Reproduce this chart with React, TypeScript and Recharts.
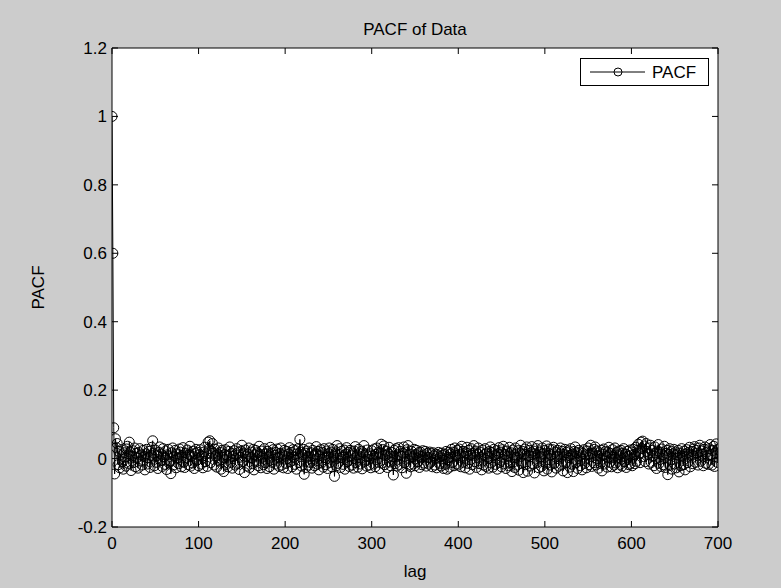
import { CartesianGrid, Legend, Line, LineChart, XAxis, YAxis } from "recharts";

// PACF values, one per lag (lag = position in the list)
const pacfLags0to99 = [
  1, 0.6, 0.09, -0.045, 0.058, 0.032, 0.044, -0.018, 0.021, -0.027,
  0.012, 0.026, -0.009, -0.031, 0.017, 0.004, -0.022, 0.028, 0.036, -0.014,
  0.048, 0.019, -0.035, 0.007, 0.023, -0.012, 0.031, -0.024, 0.015, 0.002,
  -0.028, 0.018, 0.029, -0.007, 0.011, -0.019, 0.024, 0.006, -0.033, 0.014,
  0.027, -0.016, 0.003, 0.021, -0.026, 0.009, 0.033, 0.052, 0.016, -0.021,
  0.025, -0.011, 0.008, -0.029, 0.019, 0.034, -0.006, 0.013, -0.023, 0.029,
  0.005, -0.017, 0.022, -0.032, 0.011, 0.027, -0.013, -0.008, -0.044, 0.017,
  0.031, -0.019, 0.006, 0.024, -0.027, 0.014, 0.002, -0.015, 0.028, 0.019,
  -0.024, 0.009, 0.032, -0.011, -0.026, 0.016, 0.004, 0.025, -0.018, 0.012,
  0.036, -0.022, 0.008, -0.013, 0.021, -0.029, 0.015, 0.027, -0.005, 0.018,
];

const pacfLags100to199 = [
  -0.021, 0.011, 0.026, -0.016, 0.007, -0.027, 0.019, 0.033, -0.009, 0.014,
  -0.023, 0.048, 0.029, 0.052, -0.012, 0.021, 0.044, 0.016, -0.019, 0.027,
  0.008, -0.025, 0.013, 0.031, -0.007, 0.018, -0.031, 0.024, 0.003, -0.038,
  0.012, 0.026, -0.017, 0.009, -0.024, 0.021, 0.034, -0.011, 0.015, -0.028,
  0.006, 0.023, -0.019, 0.011, 0.029, -0.014, 0.018, -0.032, 0.004, 0.022,
  0.039, -0.009, 0.016, -0.041, 0.025, 0.007, -0.022, 0.013, 0.031, -0.026,
  0.019, 0.003, -0.015, 0.027, -0.033, 0.011, 0.024, -0.008, 0.017, -0.021,
  0.036, 0.012, -0.027, 0.022, 0.005, -0.018, 0.029, -0.012, 0.014, -0.029,
  0.021, 0.008, -0.024, 0.033, 0.016, -0.011, 0.026, -0.031, 0.009, 0.018,
  -0.016, 0.028, 0.002, -0.023, 0.015, 0.031, -0.019, 0.011, -0.027, 0.024,
];

const pacfLags200to299 = [
  0.007, -0.014, 0.021, -0.029, 0.013, 0.032, -0.009, 0.018, -0.024, 0.026,
  0.004, -0.017, 0.023, -0.031, 0.014, 0.029, -0.012, 0.056, 0.019, -0.022,
  0.011, 0.027, -0.046, 0.016, -0.026, 0.022, 0.006, -0.019, 0.031, -0.011,
  0.017, -0.028, 0.024, 0.009, -0.021, 0.013, 0.035, -0.016, 0.021, -0.033,
  0.008, 0.026, -0.013, 0.018, -0.025, 0.029, 0.003, -0.018, 0.022, -0.029,
  0.014, 0.031, -0.011, 0.019, -0.024, 0.027, 0.006, -0.052, 0.016, -0.021,
  0.038, -0.014, 0.012, 0.029, -0.026, 0.021, 0.004, -0.017, 0.025, -0.031,
  0.013, 0.032, -0.009, 0.018, -0.023, 0.024, 0.008, -0.019, 0.016, -0.028,
  0.022, 0.035, -0.012, 0.011, -0.025, 0.027, 0.002, -0.016, 0.021, -0.03,
  0.017, 0.038, -0.008, 0.013, -0.022, 0.025, 0.007, -0.019, 0.014, -0.027,
];

const pacfLags300to399 = [
  0.023, 0.009, -0.016, 0.028, -0.024, 0.012, 0.031, -0.011, 0.019, -0.029,
  0.015, 0.042, -0.013, 0.026, 0.037, -0.018, 0.009, 0.022, -0.026, 0.014,
  0.033, -0.01, -0.021, 0.018, 0.006, -0.048, 0.024, -0.015, 0.029, -0.022,
  0.011, 0.032, -0.017, 0.021, 0.008, -0.027, 0.016, 0.034, -0.012, 0.019,
  -0.043, 0.026, 0.038, -0.019, 0.013, -0.024, 0.021, 0.005, -0.016, 0.027,
  -0.021, 0.012, 0.024, -0.009, 0.017, -0.026, 0.019, 0.006, -0.018, 0.023,
  -0.013, 0.011, 0.021, -0.022, 0.015, 0.003, -0.016, 0.019, -0.011, 0.014,
  -0.024, 0.017, 0.008, -0.019, 0.013, -0.027, 0.011, 0.018, -0.014, 0.006,
  -0.022, 0.016, 0.009, -0.029, 0.012, -0.017, 0.021, -0.031, 0.004, 0.018,
  -0.025, 0.014, 0.027, -0.012, 0.019, -0.021, 0.031, 0.009, -0.016, 0.024,
];

const pacfLags400to499 = [
  -0.019, 0.028, 0.013, -0.024, 0.036, -0.011, 0.021, 0.007, -0.027, 0.017,
  0.033, -0.014, 0.024, -0.031, 0.011, 0.029, -0.018, 0.015, 0.038, -0.009,
  0.022, -0.026, 0.013, 0.031, -0.015, 0.019, 0.004, -0.033, 0.025, -0.019,
  0.012, 0.029, -0.023, 0.016, 0.006, -0.028, 0.021, 0.034, -0.013, 0.018,
  -0.025, 0.027, 0.009, -0.017, 0.023, -0.031, 0.014, 0.032, -0.011, 0.019,
  -0.024, 0.026, 0.036, -0.016, 0.012, -0.029, 0.022, 0.007, -0.021, 0.033,
  -0.012, 0.017, -0.038, 0.025, 0.011, -0.026, 0.031, 0.004, -0.019, 0.023,
  -0.034, 0.016, 0.039, -0.014, 0.021, -0.041, 0.013, 0.028, -0.018, 0.034,
  -0.037, 0.009, 0.024, -0.022, 0.017, 0.035, -0.016, 0.022, -0.042, 0.014,
  0.029, -0.011, 0.038, -0.027, 0.019, 0.006, -0.023, 0.031, 0.015, -0.036,
];

const pacfLags500to599 = [
  0.024, -0.013, 0.037, -0.031, 0.016, 0.028, -0.019, 0.011, -0.039, 0.026,
  0.033, -0.014, 0.019, -0.028, 0.007, 0.024, -0.022, 0.014, 0.031, -0.017,
  0.021, -0.036, 0.012, 0.027, -0.011, 0.018, -0.041, 0.023, 0.009, -0.025,
  0.029, -0.016, 0.013, -0.038, 0.021, 0.034, -0.012, 0.017, -0.029, 0.024,
  0.008, -0.021, 0.019, -0.033, 0.015, 0.026, -0.014, 0.011, -0.027, 0.022,
  0.031, -0.018, 0.013, 0.039, -0.023, 0.016, -0.012, 0.027, 0.034, -0.019,
  0.022, 0.009, -0.028, 0.017, -0.014, 0.024, -0.036, 0.013, 0.028, -0.016,
  0.021, 0.006, -0.025, 0.019, 0.033, -0.011, 0.015, -0.024, 0.026, 0.004,
  -0.019, 0.031, -0.013, 0.018, -0.027, 0.022, 0.011, -0.017, 0.024, -0.022,
  0.016, 0.029, -0.009, 0.013, -0.026, 0.021, 0.007, -0.018, 0.025, -0.014,
];

const pacfLags600to700 = [
  0.019, -0.021, 0.027, 0.012, -0.015, 0.033, -0.008, 0.024, 0.042, 0.016,
  -0.012, 0.048, 0.029, 0.051, 0.006, 0.037, -0.009, 0.044, 0.021, 0.013,
  -0.016, 0.031, 0.039, -0.011, 0.024, 0.008, -0.021, 0.034, 0.017, -0.029,
  0.022, 0.041, -0.014, 0.019, -0.023, 0.028, 0.011, -0.018, 0.036, -0.026,
  0.015, 0.024, -0.047, 0.012, 0.029, -0.019, 0.021, -0.031, 0.014, 0.027,
  -0.016, 0.019, -0.027, 0.011, 0.024, -0.039, 0.016, -0.021, 0.029, 0.007,
  -0.018, 0.022, -0.033, 0.013, 0.026, -0.012, 0.018, 0.033, -0.024, 0.009,
  0.021, -0.015, 0.028, 0.035, -0.011, 0.024, 0.016, -0.019, 0.031, 0.039,
  -0.008, 0.022, 0.013, -0.021, 0.027, 0.034, -0.014, 0.019, 0.009, -0.017,
  0.029, 0.041, 0.012, -0.019, 0.024, 0.036, -0.023, 0.018, 0.043, -0.011,
  0.026,
];

const lagTicks = [0, 100, 200, 300, 400, 500, 600, 700];
const pacfTicks = [-0.2, 0, 0.2, 0.4, 0.6, 0.8, 1, 1.2];

const seriesName = "PACF";
const chartTitle = "PACF of Data";
const xLabel = "lag";
const yLabel = "PACF";

const pacfValues = [
  ...pacfLags0to99,
  ...pacfLags100to199,
  ...pacfLags200to299,
  ...pacfLags300to399,
  ...pacfLags400to499,
  ...pacfLags500to599,
  ...pacfLags600to700,
];

const chartData = pacfValues.map((value, lag) => ({ lag, pacf: value }));

const FONT = "'Liberation Sans', Arial, Helvetica, sans-serif";
const TICK_LEN = 6;

function BottomTick({ x, y, payload }: any) {
  return (
    <g>
      <line x1={x} y1={y} x2={x} y2={y - TICK_LEN} stroke="#000" />
      <text x={x} y={y + 22} textAnchor="middle" fontSize={17} fontFamily={FONT} fill="#000">
        {String(payload.value)}
      </text>
    </g>
  );
}

function LeftTick({ x, y, payload }: any) {
  return (
    <g>
      <line x1={x} y1={y} x2={x + TICK_LEN} y2={y} stroke="#000" />
      <text x={x - 5} y={y + 6} textAnchor="end" fontSize={17} fontFamily={FONT} fill="#000">
        {String(payload.value)}
      </text>
    </g>
  );
}

function TopTick({ x, y }: any) {
  return <line x1={x} y1={y} x2={x} y2={y + TICK_LEN} stroke="#000" />;
}

function RightTick({ x, y }: any) {
  return <line x1={x} y1={y} x2={x - TICK_LEN} y2={y} stroke="#000" />;
}

function TitleLabel({ viewBox }: any) {
  return (
    <text x={viewBox.x + viewBox.width / 2} y={viewBox.y + 35} textAnchor="middle" fontSize={17} fontFamily={FONT} fill="#000">
      {chartTitle}
    </text>
  );
}

function XAxisLabel({ viewBox }: any) {
  return (
    <text x={viewBox.x + viewBox.width / 2} y={viewBox.y + 50} textAnchor="middle" fontSize={17} fontFamily={FONT} fill="#000">
      {xLabel}
    </text>
  );
}

function YAxisLabel({ viewBox }: any) {
  const cx = viewBox.x + 44;
  const cy = viewBox.y + viewBox.height / 2;
  return (
    <text x={cx} y={cy} transform={`rotate(-90 ${cx} ${cy})`} textAnchor="middle" fontSize={17} fontFamily={FONT} fill="#000">
      {yLabel}
    </text>
  );
}

function LegendBox({ payload }: any) {
  const name = payload && payload[0] ? payload[0].value : seriesName;
  return (
    <svg width={129} height={28} style={{ display: "block" }}>
      <rect x={0.5} y={0.5} width={128} height={27} fill="#fff" stroke="#000" />
      <line x1={10} y1={14} x2={65} y2={14} stroke="#000" />
      <circle cx={38} cy={14} r={4} fill="none" stroke="#000" />
      <text x={72} y={20} fontSize={17} fontFamily={FONT} fill="#000">
        {name}
      </text>
    </svg>
  );
}

export default function App() {
  return (
    <div
      style={{
        position: "absolute",
        left: 0,
        top: 0,
        width: 781,
        height: 588,
        background: "#cccccc",
      }}
    >
      <LineChart
        width={781}
        height={588}
        data={chartData}
        margin={{ top: 0, right: 0, bottom: 0, left: 0 }}
      >
        <CartesianGrid fill="#ffffff" horizontal={false} vertical={false} />
        <XAxis
          dataKey="lag"
          type="number"
          domain={[0, 700]}
          ticks={lagTicks}
          interval={0}
          allowDataOverflow
          height={61}
          tickSize={0}
          tickMargin={0}
          tickLine={false}
          axisLine={{ stroke: "#000" }}
          tick={<BottomTick />}
          label={<XAxisLabel />}
        />
        <XAxis
          xAxisId="top"
          orientation="top"
          type="number"
          domain={[0, 700]}
          ticks={lagTicks}
          interval={0}
          allowDataOverflow
          height={48}
          tickSize={0}
          tickMargin={0}
          tickLine={false}
          axisLine={{ stroke: "#000" }}
          tick={<TopTick />}
          label={<TitleLabel />}
        />
        <YAxis
          type="number"
          domain={[-0.2, 1.2]}
          ticks={pacfTicks}
          interval={0}
          allowDataOverflow
          width={112}
          tickSize={0}
          tickMargin={0}
          tickLine={false}
          axisLine={{ stroke: "#000" }}
          tick={<LeftTick />}
          label={<YAxisLabel />}
        />
        <YAxis
          yAxisId="right"
          orientation="right"
          type="number"
          domain={[-0.2, 1.2]}
          ticks={pacfTicks}
          interval={0}
          allowDataOverflow
          width={63}
          tickSize={0}
          tickMargin={0}
          tickLine={false}
          axisLine={{ stroke: "#000" }}
          tick={<RightTick />}
        />
        <Legend
          layout="horizontal"
          verticalAlign="middle"
          align="center"
          content={<LegendBox />}
          wrapperStyle={{ position: "absolute", left: 580, top: 58, width: 129, height: 28 }}
        />
        <Line
          type="linear"
          dataKey="pacf"
          name={seriesName}
          stroke="#000"
          strokeWidth={1}
          dot={{ r: 5, fill: "none", stroke: "#000", strokeWidth: 1 }}
          activeDot={false}
          isAnimationActive={false}
        />
      </LineChart>
    </div>
  );
}
